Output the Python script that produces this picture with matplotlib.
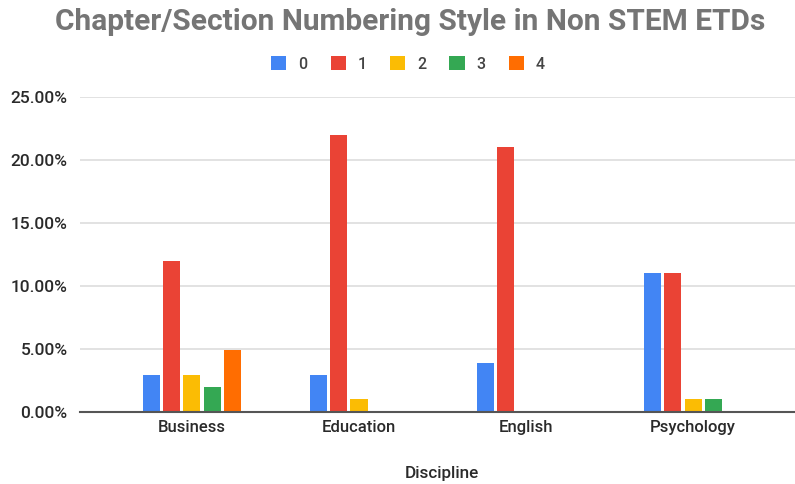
import matplotlib
matplotlib.use("Agg")
import matplotlib.pyplot as plt
import numpy as np
from matplotlib.ticker import FuncFormatter

plt.rcParams['font.family'] = ['Roboto', 'DejaVu Sans']

categories = ["Business", "Education", "English", "Psychology"]
series_names = ["0", "1", "2", "3", "4"]
values = {
    "0": [2.9, 2.9, 3.9, 11.0],
    "1": [12.0, 22.0, 21.0, 11.0],
    "2": [2.9, 1.0, 0.0, 1.0],
    "3": [2.0, 0.0, 0.0, 1.0],
    "4": [4.9, 0.0, 0.0, 0.0],
}
colors = ["#4285F4", "#EA4335", "#FBBC04", "#34A853", "#FF6D01"]
yticks = [0, 5, 10, 15, 20, 25]

fig = plt.figure(figsize=(7.95, 4.84), dpi=100)
ax = fig.add_axes([80/795, 72/484, 715/795, 315/484])

x = np.arange(len(categories))
slot = 0.121
bw = 0.102
for i, name in enumerate(series_names):
    offs = (i - 2) * slot
    ax.bar(x + offs, values[name], width=bw, color=colors[i], label=name, zorder=3)

txtc = '#2a2a2a'
ax.set_xlim(-0.67, 3.61)
ax.set_ylim(0, 25)
ax.set_yticks(yticks)
ax.yaxis.set_major_formatter(FuncFormatter(lambda v, p: f"{v:.2f}%"))
ax.grid(axis='y', color='#dddddd', linewidth=1.2, zorder=0)
ax.set_xticks(x)
ax.set_xticklabels(categories)
for s in ['top', 'right', 'left']:
    ax.spines[s].set_visible(False)
ax.spines['bottom'].set_color('#555555')
ax.spines['bottom'].set_linewidth(1.5)
ax.spines['bottom'].set_zorder(4)
ax.tick_params(axis='y', length=0, labelsize=12.5, colors=txtc, pad=9)
ax.tick_params(axis='x', length=0, labelsize=12, colors=txtc, pad=6)
for t in ax.get_xticklabels() + ax.get_yticklabels():
    t.set_fontweight('medium')
ax.set_xlabel("Discipline", fontsize=12.3, color=txtc, fontweight='medium')
ax.xaxis.set_label_coords((442-80)/715, -0.17)

fig.text(410/795, 1 - 22/484, "Chapter/Section Numbering Style in Non STEM ETDs",
         ha='center', va='center', fontsize=21.5, fontweight='bold', color='#757575')

leg = fig.legend(loc='center', bbox_to_anchor=(408/795, 1 - 64/484), ncol=5,
                 frameon=False, fontsize=11.5, handlelength=0.95, handleheight=0.95,
                 handletextpad=0.75, columnspacing=1.45)
for t in leg.get_texts():
    t.set_color('#444444')
    t.set_fontweight('medium')

fig.savefig("out.png", dpi=100, facecolor='white')
